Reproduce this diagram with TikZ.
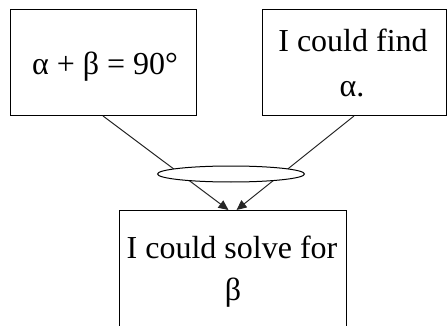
\documentclass[tikz,border=0pt]{standalone}
\usepackage{fontspec}
\setmainfont{Liberation Serif}
\usetikzlibrary{shapes.geometric,arrows.meta}
\tikzset{
  box/.style={draw=black, line width=1pt, fill=none, outer sep=0pt, inner sep=0pt},
  txt/.style={anchor=base, inner sep=0pt, font=\fontsize{32}{44}\selectfont},
  arr/.style={draw=black!85, line width=1pt, -{Triangle[length=10pt,width=9pt]}},
  andnode/.style={ellipse, draw=black, line width=1pt, fill=white, inner sep=0pt, minimum width=147pt, minimum height=16pt}
}
\begin{document}
\begin{tikzpicture}[x=1pt,y=-1pt]
\useasboundingbox (0,0) rectangle (447,326);
\node[box, minimum width=186pt, minimum height=106pt] (L) at (103,63) {};
\node[box, minimum width=184pt, minimum height=106pt] (R) at (354,63) {};
\node[box, minimum width=227pt, minimum height=130pt, anchor=north] (B) at (232.5,210) {};
\node[txt] (Lt) at (105,75) {α + β = 90°};
\node[txt] (Rt1) at (353,52) {I could find};
\node[txt] (Rt2) at (352,97) {α.};
\node[txt] (Bt1) at (232,258) {I could solve for};
\node[txt] (Bt2) at (233,300) {β};
\draw[arr] (L.south) -- ([xshift=-4pt]B.north);
\draw[arr] (R.south) -- ([xshift=4pt]B.north);
\node[andnode] (E) at (231,174) {};
\end{tikzpicture}
\end{document}
